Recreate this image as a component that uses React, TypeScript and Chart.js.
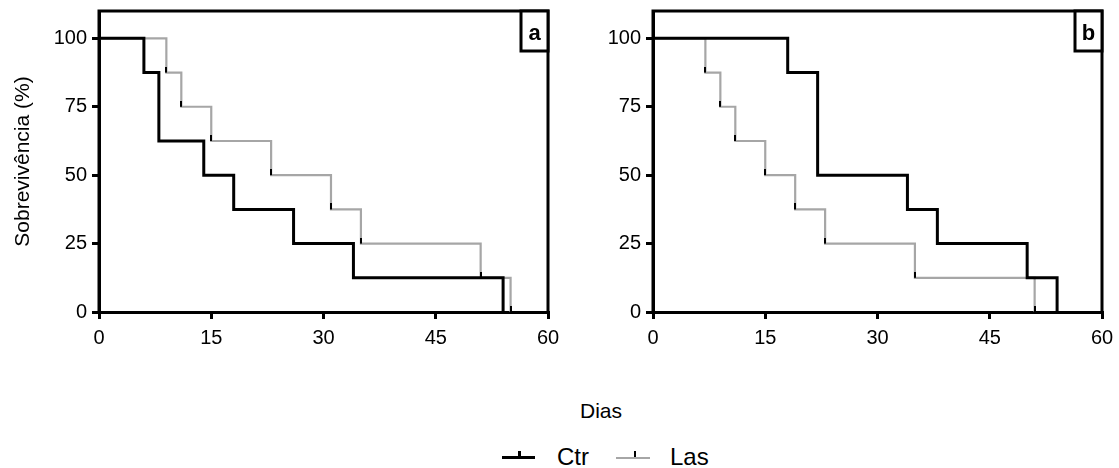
import React, { useEffect, useRef } from 'react';
import { Chart, registerables } from 'chart.js';

Chart.register(...registerables);

// ---- data ----
const X_TICKS = [0, 15, 30, 45, 60];
const Y_TICKS = [0, 25, 50, 75, 100];

const ctrADays = [0, 6, 8, 14, 18, 26, 34, 54];
const ctrASurv = [100, 87.5, 62.5, 50, 37.5, 25, 12.5, 0];
const lasADays = [0, 9, 11, 15, 23, 31, 35, 51, 55];
const lasASurv = [100, 87.5, 75, 62.5, 50, 37.5, 25, 12.5, 0];

const ctrBDays = [0, 18, 22, 34, 38, 50, 54];
const ctrBSurv = [100, 87.5, 50, 37.5, 25, 12.5, 0];
const lasBDays = [0, 7, 9, 11, 15, 19, 23, 35, 51];
const lasBSurv = [100, 87.5, 75, 62.5, 50, 37.5, 25, 12.5, 0];

const SERIES_NAMES = ['Ctr', 'Las'];
const PANEL_LABELS = ['a', 'b'];
const Y_TITLE = 'Sobrevivência (%)';
const X_TITLE = 'Dias';

const FONT = '"Liberation Sans", Arial, Helvetica, sans-serif';
const CTR_COLOR = '#000000';
const LAS_COLOR = '#a6a6a6';

function toPoints(days: number[], surv: number[]) {
  return days.map((d, i) => ({ x: d, y: surv[i] }));
}

function makeMarker(): HTMLCanvasElement {
  const c = document.createElement('canvas');
  c.width = 2;
  c.height = 12;
  const g = c.getContext('2d');
  if (g) {
    g.fillStyle = '#000';
    g.fillRect(0, 0, 2, 6);
  }
  return c;
}

const framePlugin = {
  id: 'frame',
  afterDatasetsDraw(chart: any, _args: any, opts: any) {
    const { ctx, chartArea } = chart;
    const { left, right, top, bottom } = chartArea;
    ctx.save();
    ctx.strokeStyle = '#000';
    ctx.lineWidth = 3;
    ctx.beginPath();
    ctx.moveTo(left, bottom);
    ctx.lineTo(left, top);
    ctx.lineTo(right, top);
    ctx.lineTo(right, bottom);
    ctx.stroke();
    const w = 27;
    const h = 40;
    ctx.fillStyle = '#fff';
    ctx.fillRect(right - w, top, w, h);
    ctx.strokeRect(right - w, top, w, h);
    ctx.fillStyle = '#000';
    ctx.font = `bold 22px ${FONT}`;
    ctx.textAlign = 'center';
    ctx.textBaseline = 'alphabetic';
    ctx.fillText(opts.text, right - w / 2, top + 29);
    ctx.restore();
  },
};

function makeConfig(
  ctr: { x: number; y: number }[],
  las: { x: number; y: number }[],
  label: string,
  yWidth: number,
  rightPad: number,
  showYTitle: boolean
): any {
  const marker = makeMarker();
  const ds = (name: string, data: any[], color: string, width: number) => ({
    label: name,
    data,
    borderColor: color,
    backgroundColor: color,
    borderWidth: width,
    stepped: 'before',
    fill: false,
    pointStyle: marker,
    pointRadius: (c: any) => (c.dataIndex === 0 ? 0 : 3),
    tension: 0,
  });
  return {
    type: 'line',
    data: {
      datasets: [
        ds(SERIES_NAMES[0], ctr, CTR_COLOR, 3),
        ds(SERIES_NAMES[1], las, LAS_COLOR, 2.2),
      ],
    },
    options: {
      animation: false,
      responsive: false,
      events: [],
      layout: { padding: { left: 0, top: 11, right: rightPad, bottom: 0 } },
      plugins: {
        legend: { display: false },
        tooltip: { enabled: false },
        frame: { text: label },
      },
      scales: {
        x: {
          type: 'linear',
          min: 0,
          max: 60,
          afterBuildTicks: (s: any) => {
            s.ticks = X_TICKS.map((v) => ({ value: v }));
          },
          afterFit: (s: any) => {
            s.height = 48;
            s.paddingLeft = 0;
            s.paddingRight = 0;
          },
          grid: {
            drawOnChartArea: false,
            drawTicks: true,
            tickLength: 7,
            tickWidth: 3,
            tickColor: '#000',
            color: '#000',
            lineWidth: 3,
          },
          border: { display: true, color: '#000', width: 3 },
          ticks: {
            color: '#000',
            font: { size: 20, family: FONT },
            padding: 7,
            maxRotation: 0,
            autoSkip: false,
          },
        },
        y: {
          type: 'linear',
          min: 0,
          max: 110,
          afterBuildTicks: (s: any) => {
            s.ticks = Y_TICKS.map((v) => ({ value: v }));
          },
          afterFit: (s: any) => {
            s.width = yWidth;
            s.paddingTop = 0;
            s.paddingBottom = 0;
          },
          grid: {
            drawOnChartArea: false,
            drawTicks: true,
            tickLength: 7,
            tickWidth: 3,
            tickColor: '#000',
            color: '#000',
            lineWidth: 3,
          },
          border: { display: true, color: '#000', width: 3 },
          ticks: {
            color: '#000',
            font: { size: 20, family: FONT },
            padding: 5,
            autoSkip: false,
          },
          title: {
            display: showYTitle,
            text: Y_TITLE,
            color: '#000',
            font: { size: 21, family: FONT },
            padding: { top: 11, bottom: 0 },
          },
        },
      },
    },
    plugins: [framePlugin],
  };
}

export default function App() {
  const refA = useRef<HTMLCanvasElement | null>(null);
  const refB = useRef<HTMLCanvasElement | null>(null);

  useEffect(() => {
    Chart.defaults.font.family = FONT;
    const a = new Chart(
      refA.current as HTMLCanvasElement,
      makeConfig(toPoints(ctrADays, ctrASurv), toPoints(lasADays, lasASurv), PANEL_LABELS[0], 99, 12, true)
    );
    const b = new Chart(
      refB.current as HTMLCanvasElement,
      makeConfig(toPoints(ctrBDays, ctrBSurv), toPoints(lasBDays, lasBSurv), PANEL_LABELS[1], 93, 17, false)
    );
    return () => {
      a.destroy();
      b.destroy();
    };
  }, []);

  return (
    <div
      style={{
        position: 'fixed',
        left: 0,
        top: 0,
        width: 1119,
        height: 468,
        background: '#fff',
        fontFamily: FONT,
        color: '#000',
        overflow: 'hidden',
      }}
    >
      <canvas ref={refA} width={560} height={360} style={{ position: 'absolute', left: 0, top: 0 }} />
      <canvas ref={refB} width={559} height={360} style={{ position: 'absolute', left: 560, top: 0 }} />
      <div
        style={{
          position: 'absolute',
          left: 501,
          top: 400,
          width: 200,
          textAlign: 'center',
          fontSize: 21,
          lineHeight: '21px',
        }}
      >
        {X_TITLE}
      </div>
      {/* legend */}
      <div style={{ position: 'absolute', left: 502, top: 455.5, width: 33, height: 3, background: CTR_COLOR }} />
      <div style={{ position: 'absolute', left: 517.5, top: 451, width: 3, height: 6, background: '#000' }} />
      <div style={{ position: 'absolute', left: 557, top: 445, fontSize: 24, lineHeight: '24px' }}>{SERIES_NAMES[0]}</div>
      <div style={{ position: 'absolute', left: 616, top: 456.5, width: 34, height: 2.5, background: LAS_COLOR }} />
      <div style={{ position: 'absolute', left: 633.5, top: 450.5, width: 2.5, height: 6.5, background: '#000' }} />
      <div style={{ position: 'absolute', left: 670, top: 445, fontSize: 24, lineHeight: '24px' }}>{SERIES_NAMES[1]}</div>
    </div>
  );
}
